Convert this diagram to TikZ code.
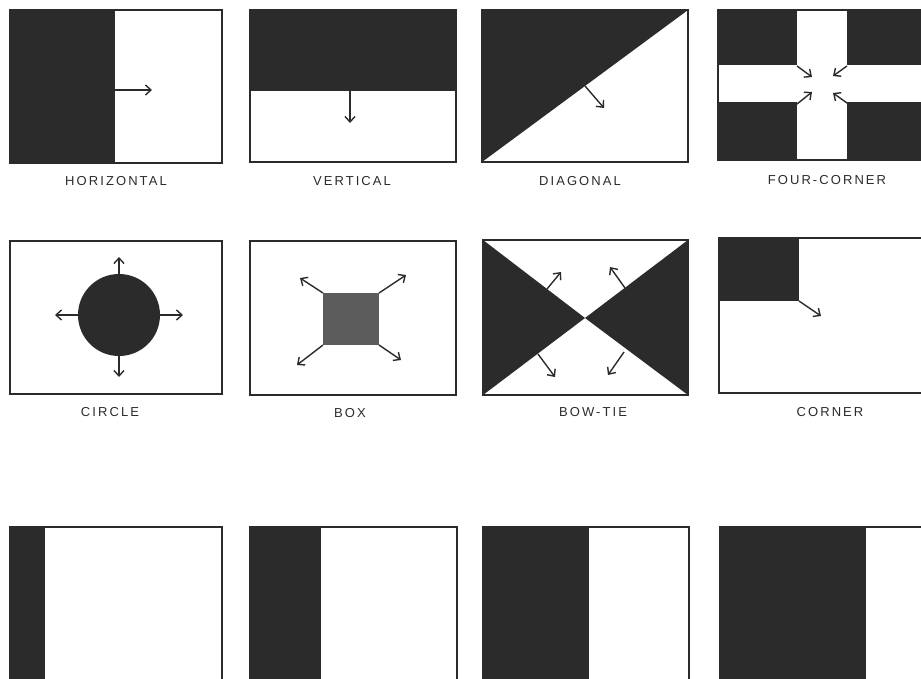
\documentclass[tikz,border=0pt]{standalone}
\usepackage{fontspec}
\setmainfont{Liberation Sans}[LetterSpace=16]
\usetikzlibrary{arrows.meta}
\definecolor{inkdark}{HTML}{2B2B2B}
\definecolor{inkgray}{HTML}{5C5C5C}

\begin{document}
\begin{tikzpicture}[x=1pt, y=-1pt, >={Straight Barb[length=5.5pt,width=10pt]},
  frame/.style={draw=inkdark, line width=2.6pt},
  ink/.style={fill=inkdark},
  flow/.style={->, draw=inkdark, line width=1.4pt},
  caption/.style={font=\fontsize{13}{14}\selectfont, text=inkdark}]
  \useasboundingbox (0,0) rectangle (921,678);
  \clip (0,0) rectangle (921,678);

  % Row 1: horizontal, vertical, diagonal, four-corner
  \fill[ink] (10,10) rectangle (115,163);
  \draw[frame] (10,10) rectangle (222,163);
  \coordinate (h0) at (115,90);
  \coordinate (h1) at (152,90);
  \draw[flow] (h0) -- (h1);
  \node[caption] (horizontal) at (116,181) {HORIZONTAL};

  \fill[ink] (250,10) rectangle (456,91);
  \draw[frame] (250,10) rectangle (456,162);
  \coordinate (v0) at (350,91);
  \coordinate (v1) at (350,123);
  \draw[flow] (v0) -- (v1);
  \node[caption] (vertical) at (352,181) {VERTICAL};

  \fill[ink] (482,10) -- (688,10) -- (482,162) -- cycle;
  \draw[frame] (482,10) rectangle (688,162);
  \coordinate (d0) at (585,86);
  \coordinate (d1) at (604,108);
  \draw[flow] (d0) -- (d1);
  \node[caption] (diagonal) at (580,181) {DIAGONAL};

  \fill[ink] (718,10) rectangle (924,160);
  \fill[white] (797,10) rectangle (847,160);
  \fill[white] (718,65) rectangle (924,102);
  \draw[frame] (718,10) rectangle (924,160);
  \coordinate (fa0) at (797,66);  \coordinate (fa1) at (812,77);
  \coordinate (fb0) at (847,66);  \coordinate (fb1) at (833,76);
  \coordinate (fc0) at (797,104); \coordinate (fc1) at (812,92);
  \coordinate (fd0) at (847,103); \coordinate (fd1) at (833,93);
  \draw[flow] (fa0) -- (fa1);
  \draw[flow] (fb0) -- (fb1);
  \draw[flow] (fc0) -- (fc1);
  \draw[flow] (fd0) -- (fd1);
  \node[caption] (fourcorner) at (827,180) {FOUR-CORNER};

  % Row 2: circle, box, bow-tie, corner
  \draw[frame] (10,241) rectangle (222,394);
  \fill[ink] (119,315) circle[radius=41];
  \coordinate (ca0) at (119,274); \coordinate (ca1) at (119,257);
  \coordinate (cb0) at (119,356); \coordinate (cb1) at (119,377);
  \coordinate (cc0) at (78,315);  \coordinate (cc1) at (55,315);
  \coordinate (cd0) at (160,315); \coordinate (cd1) at (183,315);
  \draw[flow] (ca0) -- (ca1);
  \draw[flow] (cb0) -- (cb1);
  \draw[flow] (cc0) -- (cc1);
  \draw[flow] (cd0) -- (cd1);
  \node[caption] (circle) at (110,412) {CIRCLE};

  \draw[frame] (250,241) rectangle (456,395);
  \fill[inkgray] (323,293) rectangle (379,345);
  \coordinate (ba0) at (323,293); \coordinate (ba1) at (300,278);
  \coordinate (bb0) at (379,293); \coordinate (bb1) at (406,275);
  \coordinate (bc0) at (323,345); \coordinate (bc1) at (297,365);
  \coordinate (bd0) at (379,345); \coordinate (bd1) at (401,360);
  \draw[flow] (ba0) -- (ba1);
  \draw[flow] (bb0) -- (bb1);
  \draw[flow] (bc0) -- (bc1);
  \draw[flow] (bd0) -- (bd1);
  \node[caption] (box) at (350,413) {BOX};

  \fill[ink] (483,240) -- (585,318) -- (483,395) -- cycle;
  \fill[ink] (688,240) -- (585,318) -- (688,395) -- cycle;
  \draw[frame] (483,240) rectangle (688,395);
  \coordinate (ta0) at (547,289); \coordinate (ta1) at (561,272);
  \coordinate (tb0) at (625,288); \coordinate (tb1) at (610,267);
  \coordinate (tc0) at (538,354); \coordinate (tc1) at (555,377);
  \coordinate (td0) at (624,352); \coordinate (td1) at (608,375);
  \draw[flow] (ta0) -- (ta1);
  \draw[flow] (tb0) -- (tb1);
  \draw[flow] (tc0) -- (tc1);
  \draw[flow] (td0) -- (td1);
  \node[caption] (bowtie) at (593,412) {BOW-TIE};

  \fill[ink] (719,238) rectangle (799,301);
  \draw[frame] (719,238) rectangle (925,393);
  \coordinate (k0) at (799,301);
  \coordinate (k1) at (821,316);
  \draw[flow] (k0) -- (k1);
  \node[caption] (corner) at (830,412) {CORNER};

  % Row 3: growing bars
  \fill[ink] (10,527) rectangle (45,700);
  \draw[frame] (10,527) rectangle (222,700);
  \fill[ink] (250,527) rectangle (321,700);
  \draw[frame] (250,527) rectangle (457,700);
  \fill[ink] (483,527) rectangle (589,700);
  \draw[frame] (483,527) rectangle (689,700);
  \fill[ink] (720,527) rectangle (866,700);
  \draw[frame] (720,527) rectangle (926,700);
\end{tikzpicture}
\end{document}
